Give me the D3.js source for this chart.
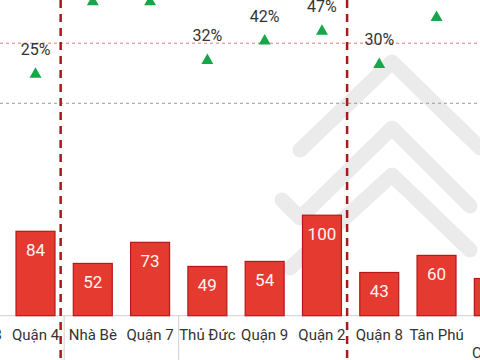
<!DOCTYPE html>
<html>
<head>
<meta charset="utf-8">
<script src="https://cdn.jsdelivr.net/npm/d3@7"></script>
<style>
html,body{margin:0;padding:0;background:#fff;}
svg{display:block;font-family:Roboto, "Noto Sans", sans-serif;}
</style>
</head>
<body>
<svg id="chart" width="480" height="360"></svg>
<script>
// ---- data ----
const categories = ["Quận 3", "Quận 4", "Nhà Bè", "Quận 7", "Thủ Đức", "Quận 9", "Quận 2", "Quận 8", "Tân Phú", "Củ Chi"];
const barValues  = [70, 84, 52, 73, 49, 54, 100, 43, 60, 37];
const pctValues  = [40, 25, 62, 62, 32, 42, 47, 30, 54, 60];
const groupBreaks = ["Nhà Bè", "Quận 8"];        // red dashed separators before these
const axisDividers = ["Nhà Bè", "Thủ Đức"];      // grey axis dividers before these
const refLines = [{v: 40, color: "#e07a7a"}, {v: 9.25, color: "#9a9a9a"}];
const staggered = ["Củ Chi"];

const W = 480, H = 360;
const svg = d3.select("#chart");

const x = d3.scaleBand().domain(categories)
  .range([-50.43, -50.43 + 57.29 * 10])
  .paddingInner(0.32).paddingOuter(0.16);
const y = d3.scaleLinear().domain([0, 100]).range([315.7, 215.2]);
const yp = d3.scaleLinear().domain([25, 47]).range([72.5, 29.5]);
const gap = x.step() - x.bandwidth();

// watermark (faint, decorative)
const wm = svg.append("g").attr("fill","none").attr("stroke","#ebebeb")
  .attr("stroke-width",15).attr("stroke-linejoin","round").attr("stroke-linecap","round");
wm.append("path").attr("d","M300,150 L392,62 L480,148");
wm.append("path").attr("d","M282,200 L300,218 L392,128 L470,206");
wm.append("path").attr("d","M290,268 L392,175 L470,250");

// reference lines
svg.selectAll("line.ref").data(refLines).join("line").attr("class","ref")
  .attr("x1",0).attr("x2",W)
  .attr("y1",d=>yp(d.v)).attr("y2",d=>yp(d.v))
  .attr("stroke",d=>d.color).attr("stroke-width",1).attr("stroke-dasharray","3,3");

// axis baseline
svg.append("line").attr("x1",0).attr("x2",W).attr("y1",y(0)).attr("y2",y(0))
  .attr("stroke","#cfcfcf").attr("stroke-width",1);

// axis dividers
svg.selectAll("line.div").data(axisDividers).join("line").attr("class","div")
  .attr("x1",d=>x(d)-gap/2).attr("x2",d=>x(d)-gap/2)
  .attr("y1",y(0)).attr("y2",H)
  .attr("stroke","#cfcfcf").attr("stroke-width",1);

// bars
svg.selectAll("rect.bar").data(categories).join("rect").attr("class","bar")
  .attr("x",d=>x(d)).attr("width",x.bandwidth())
  .attr("y",(d,i)=>y(barValues[i])).attr("height",(d,i)=>y(0)-y(barValues[i]))
  .attr("fill","#e53a30").attr("stroke","#b5171b").attr("stroke-width",1.2);

// bar labels
svg.selectAll("text.bv").data(categories).join("text").attr("class","bv")
  .attr("x",d=>x(d)+x.bandwidth()/2).attr("y",(d,i)=>y(barValues[i])+25)
  .attr("text-anchor","middle").attr("font-size",17).attr("fill","#fff3f0")
  .text((d,i)=>barValues[i]);

// category labels
svg.selectAll("text.cat").data(categories).join("text").attr("class","cat")
  .attr("x",d=>x(d)+x.bandwidth()/2)
  .attr("y",d=>staggered.includes(d) ? 358 : 340)
  .attr("text-anchor","middle").attr("font-size",15).attr("fill","#333")
  .text(d=>d);

// group separators
svg.selectAll("line.grp").data(groupBreaks).join("line").attr("class","grp")
  .attr("x1",d=>x(d)-gap/2-3.5).attr("x2",d=>x(d)-gap/2-3.5)
  .attr("y1",0).attr("y2",H)
  .attr("stroke","#a8191c").attr("stroke-width",2.5).attr("stroke-dasharray","8,6");

// triangles
const tri = d3.symbol(d3.symbolTriangle, 62);
svg.selectAll("path.tri").data(categories).join("path").attr("class","tri")
  .attr("d",tri)
  .attr("transform",(d,i)=>`translate(${x(d)+x.bandwidth()/2},${yp(pctValues[i])+1.7})`)
  .attr("fill","#17a64a");

// percent labels
svg.selectAll("text.pct").data(categories).join("text").attr("class","pct")
  .attr("x",d=>x(d)+x.bandwidth()/2).attr("y",(d,i)=>yp(pctValues[i])-17.5)
  .attr("text-anchor","middle").attr("font-size",16).attr("fill","#333")
  .text((d,i)=>pctValues[i]+"%");
</script>
</body>
</html>
